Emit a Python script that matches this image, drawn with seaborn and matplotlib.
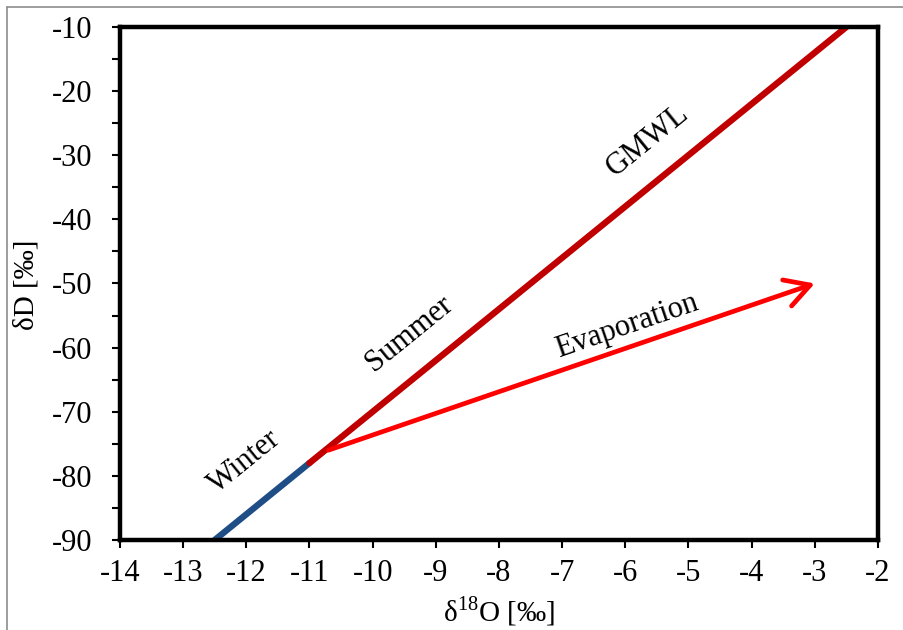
import matplotlib
matplotlib.use("Agg")
import matplotlib.pyplot as plt
from matplotlib.lines import Line2D
from matplotlib.ticker import MultipleLocator
import numpy as np
import pandas as pd
import seaborn as sns

# Global meteoric water line segments (dD = 8*d18O + 10)
winter_d18o = [-12.5, -11.0]
winter_dd = [-90.0, -78.0]
summer_d18o = [-11.0, -2.5]
summer_dd = [-78.0, -10.0]

# Evaporation trend (start -> end)
evap_start = (-10.7, -76.0)
evap_end = (-3.0, -50.0)

x_ticks = list(range(-14, -1))
y_ticks = list(range(-90, -9, 10))

season_colors = {"Winter": "#1F4E86", "Summer": "#C00000"}

FS_TICK = 22
FS_TEXT = 22
FS_LABEL = 21

sns.set_theme(style="white")
plt.rcParams["font.family"] = ["Liberation Serif", "DejaVu Serif"]
plt.rcParams["mathtext.fontset"] = "custom"
plt.rcParams["mathtext.rm"] = "Liberation Serif"

df = pd.DataFrame({
    "d18O": winter_d18o + summer_d18o,
    "dD": winter_dd + summer_dd,
    "season": ["Winter"] * len(winter_d18o) + ["Summer"] * len(summer_d18o),
})

fig = plt.figure(figsize=(9.04, 6.30), dpi=100)
ax = fig.add_axes([0.1327, 0.1429, 0.8385, 0.8143])

sns.lineplot(data=df, x="d18O", y="dD", hue="season", palette=season_colors,
             linewidth=4.6, legend=False, ax=ax, sort=False,
             solid_capstyle="round", clip_on=True)

ax.annotate("", xy=evap_end, xytext=evap_start,
            arrowprops=dict(arrowstyle="->,head_length=0.8,head_width=0.45",
                            color="#FF0000", lw=3.4, mutation_scale=22,
                            shrinkA=0, shrinkB=0, capstyle="round",
                            joinstyle="round"))

ax.set_xlim(-14, -2)
ax.set_ylim(-90, -10)
ax.set_xticks(x_ticks)
ax.set_yticks(y_ticks)
ax.set_xticklabels([str(v) for v in x_ticks])
ax.set_yticklabels([str(v) for v in y_ticks])
ax.yaxis.set_minor_locator(MultipleLocator(5))

for s in ax.spines.values():
    s.set_visible(True)
    s.set_linewidth(3.2)
    s.set_color("black")

ax.tick_params(axis="both", which="major", direction="out", length=6, width=1.5,
               color="black", labelsize=FS_TICK, labelcolor="black")
ax.tick_params(axis="x", which="major", pad=8, bottom=True)
ax.tick_params(axis="y", which="major", pad=14, left=True)
ax.tick_params(axis="y", which="minor", direction="out", length=6, width=1.5,
               color="black", left=True)
ax.grid(False)

ax.set_xlabel(r"δ$^{\mathregular{18}}$O [‰]", fontsize=FS_LABEL, color="black")
ax.set_ylabel("δD [‰]", fontsize=FS_LABEL, color="black")
ax.xaxis.label.set_va("center")
ax.yaxis.label.set_va("center")
ax.xaxis.set_label_coords(0.5, -0.138)
ax.yaxis.set_label_coords(-0.1227, 0.497)

# Annotations along the lines, rotated to the on-screen slope
fig.canvas.draw()
def screen_angle(p0, p1):
    a = ax.transData.transform(p0)
    b = ax.transData.transform(p1)
    return np.degrees(np.arctan2(b[1] - a[1], b[0] - a[0]))

gmwl_angle = screen_angle((summer_d18o[0], summer_dd[0]), (summer_d18o[1], summer_dd[1]))
evap_angle = screen_angle(evap_start, evap_end)

label_kw = dict(fontsize=FS_TEXT, color="black", ha="center", va="center",
                rotation_mode="anchor")
ax.text(-12.03, -77.8, "Winter", rotation=gmwl_angle, **label_kw)
ax.text(-9.42, -57.9, "Summer", rotation=gmwl_angle, **label_kw)
ax.text(-5.64, -27.8, "GMWL", rotation=gmwl_angle, **label_kw)
ax.text(-5.97, -56.6, "Evaporation", rotation=evap_angle, **label_kw)

# Thin grey frame around the figure area
W, H = 904, 630
fig.add_artist(Line2D([7 / W, 1.0], [1 - 7 / H, 1 - 7 / H], color="#8C8C8C",
                      lw=1.2, transform=fig.transFigure))
fig.add_artist(Line2D([7 / W, 7 / W], [0.0, 1 - 7 / H], color="#8C8C8C",
                      lw=1.2, transform=fig.transFigure))

fig.savefig("out.png", dpi=100, facecolor="white")
